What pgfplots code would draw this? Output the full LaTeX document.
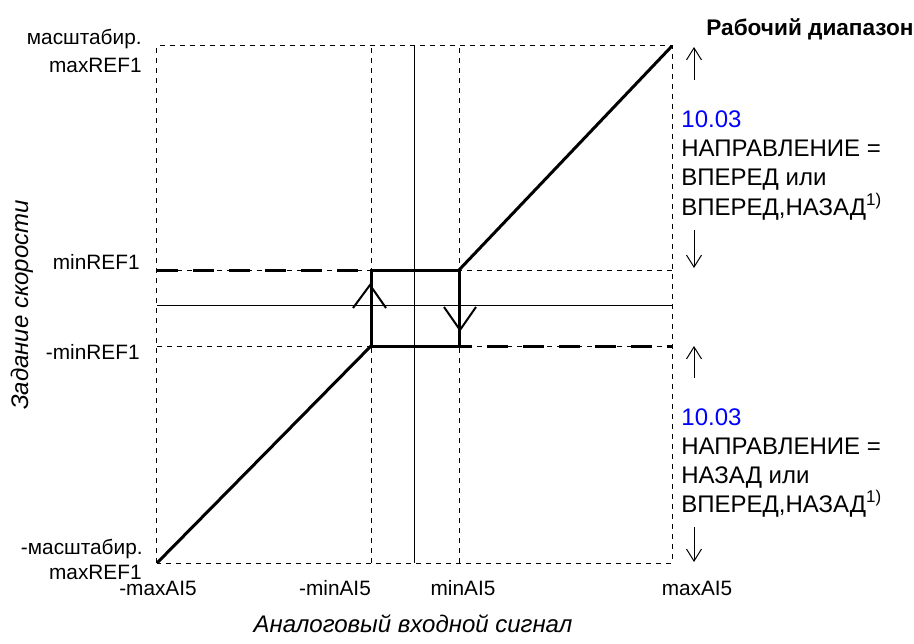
\documentclass[border=0pt]{standalone}
\usepackage{fontspec}
\setmainfont{Liberation Sans}
\usepackage{pgfplots}
\pgfplotsset{compat=1.18}
\usetikzlibrary{arrows.meta}
\definecolor{refblue}{RGB}{0,0,255}
\newcommand{\supone}{\raisebox{0.75ex}{\fontsize{8.5}{10}\selectfont 1)}}
\begin{document}
\begin{tikzpicture}
\begin{axis}[
  x=0.5pt, y=0.5pt,
  xmin=157, xmax=672, ymin=80, ymax=597,
  axis lines=box,
  axis line style={line width=0.5pt, dash pattern=on 2.5pt off 2.5pt},
  xtick=\empty, ytick=\empty,
  clip=false,
]
% invisible frame giving the picture its full size
\path (axis cs:0,0) rectangle (axis cs:914,643);

% thin dashed guide lines
\addplot[line width=0.5pt, dash pattern=on 2.5pt off 2.5pt] coordinates {(371,80) (371,597)};
\addplot[line width=0.5pt, dash pattern=on 2.5pt off 2.5pt] coordinates {(459,80) (459,597)};
\addplot[line width=0.5pt, dash pattern=on 2.5pt off 2.5pt] coordinates {(157,373) (672,373)};
\addplot[line width=0.5pt, dash pattern=on 2.5pt off 2.5pt] coordinates {(157,297) (672,297)};

% thin solid axes
\addplot[line width=0.5pt] coordinates {(414,80) (414,597)};
\addplot[line width=0.5pt] coordinates {(157,338) (672,338)};

% thick dashed limits
\addplot[line width=1.5pt, dash pattern=on 10.5pt off 7.5pt] coordinates {(157,373) (371,373)};
\addplot[line width=1.5pt, dash pattern=on 10.5pt off 7.5pt, dash phase=4pt] coordinates {(459,297) (672,297)};

% main characteristic
\addplot[line width=1.5pt] coordinates {(157,80) (371,297)};
\addplot[line width=1.5pt] coordinates {(371,297) (371,373) (459,373) (459,297) (371,297)};
\addplot[line width=1.5pt] coordinates {(459,373) (672,597)};

% hysteresis chevrons
\addplot[line width=1pt] coordinates {(353,335) (370,358) (386,335)};
\addplot[line width=1pt] coordinates {(444,336) (460,313) (476,336)};

% range arrows on the right
\addplot[line width=0.5pt, -{Straight Barb[length=6pt,width=7.5pt]}] coordinates {(694,563) (694,596)};
\addplot[line width=0.5pt, -{Straight Barb[length=6pt,width=7.5pt]}] coordinates {(694,413) (694,375)};
\addplot[line width=0.5pt, -{Straight Barb[length=6pt,width=7.5pt]}] coordinates {(694,265) (694,297)};
\addplot[line width=0.5pt, -{Straight Barb[length=6pt,width=7.5pt]}] coordinates {(694,116) (694,81)};

% x tick labels
\begin{scope}[every node/.style={font=\fontsize{10.4}{12}\selectfont, inner sep=0pt}]
\node[anchor=base] at (axis cs:158,48) {-maxAI5};
\node[anchor=base] at (axis cs:335,48) {-minAI5};
\node[anchor=base] at (axis cs:463,48) {minAI5};
\node[anchor=base] at (axis cs:697,48) {maxAI5};
% y tick labels
\node[anchor=base east] at (axis cs:142,598) {масштабир.};
\node[anchor=base east] at (axis cs:142,570) {maxREF1};
\node[anchor=base east] at (axis cs:140,374) {minREF1};
\node[anchor=base east] at (axis cs:140,284) {-minREF1};
\node[anchor=base east] at (axis cs:143,89) {-масштабир.};
\node[anchor=base east] at (axis cs:142,64) {maxREF1};
\end{scope}

% axis titles
\node[anchor=base, inner sep=0pt, font=\fontsize{12}{14}\selectfont\itshape] at (axis cs:413,11) {Аналоговый входной сигнал};
\node[rotate=90, inner sep=0pt, font=\fontsize{12}{14}\selectfont\itshape] at (axis cs:22,338) {Задание скорости};

% right annotations
\node[anchor=base, inner sep=0pt, font=\fontsize{11.3}{13}\selectfont\bfseries] at (axis cs:810,607) {Рабочий диапазон};
\begin{scope}[every node/.style={anchor=base west, inner sep=0pt, font=\fontsize{12}{14}\selectfont}]
\node[text=refblue] at (axis cs:681,515) {10.03};
\node at (axis cs:681,486) {НАПРАВЛЕНИЕ =};
\node at (axis cs:681,457) {ВПЕРЕД или};
\node at (axis cs:681,428) {ВПЕРЕД,НАЗАД\supone};
\node[text=refblue] at (axis cs:681,218) {10.03};
\node at (axis cs:681,189) {НАПРАВЛЕНИЕ =};
\node at (axis cs:681,160) {НАЗАД или};
\node at (axis cs:681,131) {ВПЕРЕД,НАЗАД\supone};
\end{scope}
\end{axis}
\end{tikzpicture}
\end{document}
